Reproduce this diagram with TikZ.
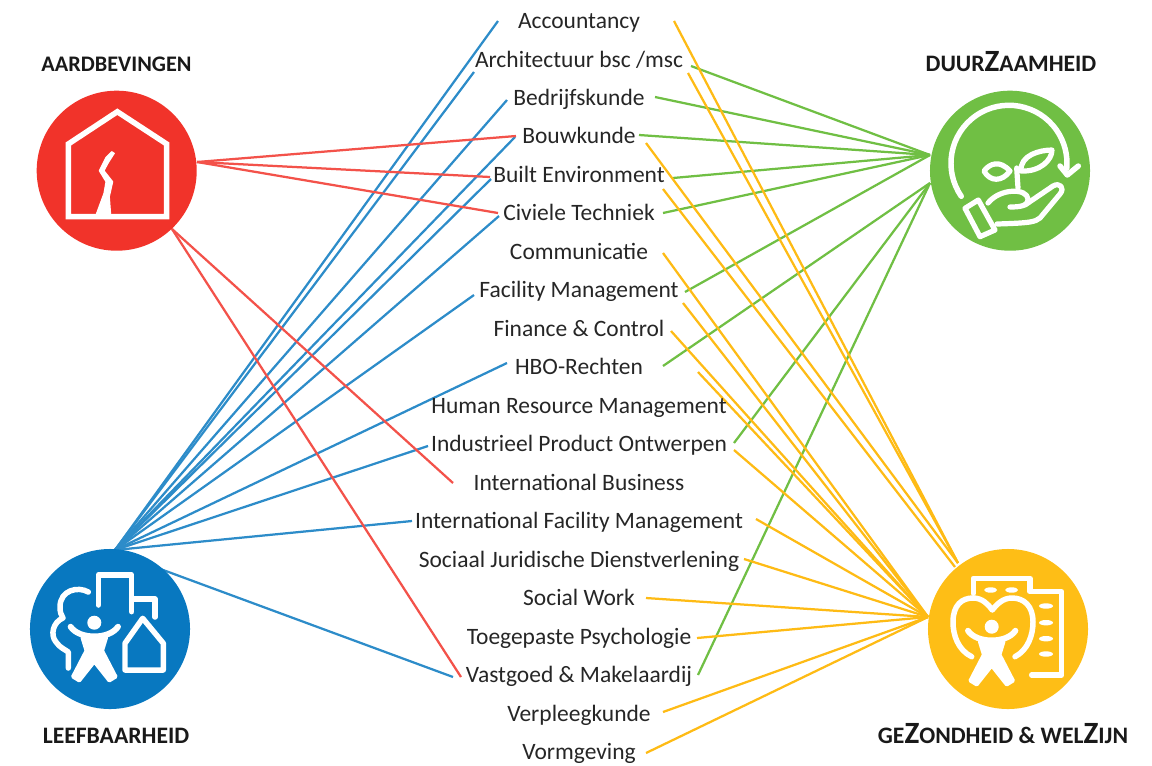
\documentclass[tikz,border=0pt]{standalone}
\usepackage{fontspec}
\setmainfont{Carlito}
\usepackage{xcolor}

\definecolor{rood}{HTML}{F1332A}
\definecolor{blauw}{HTML}{0878C0}
\definecolor{groen}{HTML}{70BF44}
\definecolor{geel}{HTML}{FEBE16}

\newcommand{\grootZ}{{\fontsize{22}{22}\selectfont Z}}

\tikzset{
	roodlijn/.style={draw=rood!85!white, line width=1.6pt},
	blauwlijn/.style={draw=blauw!85!white, line width=1.6pt},
	groenlijn/.style={draw=groen, line width=1.6pt},
	geellijn/.style={draw=geel!95!orange, line width=1.6pt},
	schijf/.style={circle, minimum size=4cm},
	vak/.style={font=\fontsize{16.7}{18}\selectfont, text=black!85, text height=11pt, text depth=0pt},
	kop/.style={font=\fontsize{16.8}{20}\selectfont\bfseries, text=black!90, text height=10.5pt, text depth=0pt},
	wit/.style={draw=white, line width=3.9pt, line cap=round, line join=round},
	dun/.style={wit, line width=3.7pt},
	persoon/.pic={
		\fill[white] (0,0) circle (7);
		\draw[wit, line width=4.2pt] (-23.7,-4) .. controls (-15,-17) and (15,-17) .. (23.7,-4);
		\fill[white, draw=white, line width=2.5pt, line join=round] (-12,-15) -- (12,-15) -- (8,-28) -- (21.5,-54) -- (15,-58) -- (0,-39) -- (-15,-58) -- (-21.5,-54) -- (-8,-28) -- cycle;
	}
}

\begin{document}
\begin{tikzpicture}[>=latex, thick, inner sep=0pt, x=0.025cm, y=0.025cm]

	\useasboundingbox (0,0) rectangle (1152,-765);

	% uiteinden links
	\coordinate (aard_a) at (197,-162);
	\coordinate (aard_b) at (172,-229);
	\coordinate (leef_a) at (115,-550);
	\coordinate (leef_b) at (155,-567);
	\coordinate (duur_a) at (930,-155);
	\coordinate (duur_b) at (930,-183);
	\coordinate (gez_a) at (928,-617);
	\coordinate (gez_b) at (955,-567);
	\coordinate (gez_c) at (958,-563);

	% uiteinden blauw
	\coordinate (acc_l) at (498,-21);
	\coordinate (arch_l) at (474,-72);
	\coordinate (bedr_l) at (507,-100);
	\coordinate (bouw_l) at (515,-137);
	\coordinate (built_l) at (491,-179);
	\coordinate (civ_l) at (499,-216);
	\coordinate (fac_l) at (474,-295);
	\coordinate (hbo_l) at (507,-363);
	\coordinate (ind_l) at (428,-446);
	\coordinate (ifm_l) at (412,-521);
	\coordinate (vast_l) at (453,-677);

	% uiteinden rood
	\coordinate (bouw_r) at (516,-136);
	\coordinate (built_r) at (490,-177);
	\coordinate (civ_r) at (498,-213);
	\coordinate (intb_r) at (453,-483);
	\coordinate (vast_r) at (461,-677);

	% uiteinden groen
	\coordinate (arch_g) at (691,-66);
	\coordinate (bedr_g) at (655,-97);
	\coordinate (bouw_g) at (639,-135);
	\coordinate (built_g) at (673,-178);
	\coordinate (civ_g) at (663,-213);
	\coordinate (fac_g) at (685,-292);
	\coordinate (hbo_g) at (663,-366);
	\coordinate (ind_g) at (734,-443);
	\coordinate (vast_g) at (698,-675);

	% uiteinden geel
	\coordinate (acc_o) at (674,-21);
	\coordinate (arch_o) at (688,-73);
	\coordinate (bouw_o) at (646,-143);
	\coordinate (built_o) at (663,-189);
	\coordinate (com_o) at (663,-253);
	\coordinate (fac_o) at (683,-303);
	\coordinate (fin_o) at (671,-331);
	\coordinate (hrm_o) at (698,-372);
	\coordinate (ind_o) at (734,-450);
	\coordinate (ifm_o) at (756,-519);
	\coordinate (sjd_o) at (744,-559);
	\coordinate (sw_o) at (646,-598);
	\coordinate (tp_o) at (697,-638);
	\coordinate (verp_o) at (663,-712);
	\coordinate (vorm_o) at (646,-753);

	% blauwe lijnen
	\draw[blauwlijn] (leef_a) -- (acc_l);
	\draw[blauwlijn] (leef_a) -- (arch_l);
	\draw[blauwlijn] (leef_a) -- (bedr_l);
	\draw[blauwlijn] (leef_a) -- (bouw_l);
	\draw[blauwlijn] (leef_a) -- (built_l);
	\draw[blauwlijn] (leef_a) -- (civ_l);
	\draw[blauwlijn] (leef_a) -- (fac_l);
	\draw[blauwlijn] (leef_a) -- (hbo_l);
	\draw[blauwlijn] (leef_a) -- (ind_l);
	\draw[blauwlijn] (leef_a) -- (ifm_l);
	\draw[blauwlijn] (leef_b) -- (vast_l);

	% rode lijnen
	\draw[roodlijn] (aard_a) -- (bouw_r);
	\draw[roodlijn] (aard_a) -- (built_r);
	\draw[roodlijn] (aard_a) -- (civ_r);
	\draw[roodlijn] (aard_b) -- (intb_r);
	\draw[roodlijn] (aard_b) -- (vast_r);

	% groene lijnen
	\draw[groenlijn] (duur_a) -- (arch_g);
	\draw[groenlijn] (duur_a) -- (bedr_g);
	\draw[groenlijn] (duur_a) -- (bouw_g);
	\draw[groenlijn] (duur_a) -- (built_g);
	\draw[groenlijn] (duur_a) -- (civ_g);
	\draw[groenlijn] (duur_a) -- (fac_g);
	\draw[groenlijn] (duur_b) -- (hbo_g);
	\draw[groenlijn] (duur_b) -- (ind_g);
	\draw[groenlijn] (duur_b) -- (vast_g);

	% gele lijnen
	\draw[geellijn] (gez_c) -- (acc_o);
	\draw[geellijn] (gez_c) -- (arch_o);
	\draw[geellijn] (gez_c) -- (bouw_o);
	\draw[geellijn] (gez_b) -- (built_o);
	\draw[geellijn] (gez_a) -- (com_o);
	\draw[geellijn] (gez_a) -- (fac_o);
	\draw[geellijn] (gez_a) -- (fin_o);
	\draw[geellijn] (gez_a) -- (hrm_o);
	\draw[geellijn] (gez_a) -- (ind_o);
	\draw[geellijn] (gez_a) -- (ifm_o);
	\draw[geellijn] (gez_a) -- (sjd_o);
	\draw[geellijn] (gez_a) -- (sw_o);
	\draw[geellijn] (gez_a) -- (tp_o);
	\draw[geellijn] (gez_a) -- (verp_o);
	\draw[geellijn] (gez_a) -- (vorm_o);

	% schijven
	\node[schijf, fill=rood](aard) at (116.7,-170.7) {};
	\node[schijf, fill=blauw](leef) at (110,-629) {};
	\node[schijf, fill=groen](duur) at (1010,-170.7) {};
	\node[schijf, fill=geel](gez) at (1008,-629) {};

	% koppen
	\node[kop, font=\fontsize{15.8}{20}\selectfont\bfseries](aard_k) at (116.5,-64) {AARDBEVINGEN};
	\node[kop](leef_k) at (116,-736) {LEEFBAARHEID};
	\node[kop](duur_k) at (1011,-64) {DUUR\grootZ AAMHEID};
	\node[kop](gez_k) at (1003,-736) {GE\grootZ ONDHEID \& WEL\grootZ IJN};

	% vakken
	\node[vak](acc) at (579,-21) {Accountancy};
	\node[vak](arch) at (579,-60) {Architectuur bsc /msc};
	\node[vak](bedr) at (579,-98) {Bedrijfskunde};
	\node[vak](bouw) at (579,-136) {Bouwkunde};
	\node[vak](built) at (579,-175) {Built Environment};
	\node[vak](civ) at (579,-213) {Civiele Techniek};
	\node[vak](com) at (579,-252) {Communicatie};
	\node[vak](fac) at (579,-290) {Facility Management};
	\node[vak](fin) at (579,-329) {Finance \& Control};
	\node[vak](hbo) at (579,-367) {HBO-Rechten};
	\node[vak](hrm) at (579,-406) {Human Resource Management};
	\node[vak](ind) at (579,-444) {Industrieel Product Ontwerpen};
	\node[vak](intb) at (579,-483) {International Business};
	\node[vak](ifm) at (579,-521) {International Facility Management};
	\node[vak](sjd) at (579,-560) {Sociaal Juridische Dienstverlening};
	\node[vak](sw) at (579,-598) {Social Work};
	\node[vak](tp) at (579,-637) {Toegepaste Psychologie};
	\node[vak](vast) at (579,-675) {Vastgoed \& Makelaardij};
	\node[vak](verp) at (579,-714) {Verpleegkunde};
	\node[vak](vorm) at (579,-752) {Vormgeving};

	% huis met scheur
	\draw[wit, line cap=butt, line join=miter] (68.3,-216.7) -- (68.3,-144) -- (117.3,-111.7) -- (166.7,-144) -- (166.7,-216.7) -- cycle;
	\fill[white, draw=white, line width=0.8pt, line join=round] (96,-215) -- (104,-193.3) -- (106,-181.7) -- (99.3,-170.7) -- (106,-157.3) -- (111.7,-151.7) -- (114.3,-153.3) -- (108.3,-162.7) -- (104,-170.7) -- (112.7,-181.7) -- (109.3,-196.7) -- (110.7,-215) -- cycle;

	% stad
	\draw[wit] (98.3,-605) -- (98.3,-575) -- (131.7,-575) -- (131.7,-611.7);
	\draw[wit] (131.7,-599) -- (155,-599) -- (155,-617);
	\draw[wit] (88.3,-592) .. controls (78,-586) and (60,-590) .. (60,-607) .. controls (60,-612) and (61,-615) .. (63,-618) .. controls (53,-622) and (50,-635) .. (56,-642) .. controls (60,-648) and (66,-650) .. (68.3,-652) -- (68.3,-668);
	\draw[wit] (125,-670) -- (125,-643.3) -- (142.7,-618.3) -- (163.3,-643.3) -- (163.3,-670) -- cycle;
	\pic at (94.3,-622.7) {persoon};

	% plant en hand
	\draw[wit] (961.3,-196.3) arc[start angle=214.7, end angle=-5, radius=58];
	\draw[wit] (1060,-166) -- (1067.3,-175) -- (1078.3,-166);
	\draw[dun] (1016.7,-168) -- (1018,-188);
	\draw[dun] (1021,-171) .. controls (1020,-155) and (1040,-150) .. (1052,-150) .. controls (1052,-160) and (1040,-172) .. cycle;
	\draw[dun] (1010,-171) .. controls (1000,-160) and (990,-163) .. (984,-171) .. controls (990,-182) and (1002,-182) .. cycle;
	\draw[dun] (965,-208.3) -- (978.3,-200) -- (995,-230) -- (980,-236.7) -- cycle;
	\draw[dun] (988,-203) .. controls (1000,-188) and (1027,-188) .. (1028,-199) .. controls (1028,-206) and (1020,-207) .. (1010,-207);
	\draw[dun] (1025,-205) -- (1053,-186) .. controls (1060,-182) and (1065,-188) .. (1060,-194) -- (1040,-218) .. controls (1035,-222) and (1030,-223) .. (997,-224);

	% hart en gebouw
	\draw[wit] (973.3,-593.3) -- (973.3,-578.3) -- (1030,-578.3) -- (1030,-591.7) -- (1061.7,-591.7) -- (1061.7,-675) -- (1031.7,-675);
	\fill[white] (990.7,-590) ellipse (6.5 and 2.7);
	\fill[white] (1011.7,-590) ellipse (6.5 and 2.7);
	\fill[white] (1046,-606) ellipse (7 and 2.7);
	\fill[white] (1046,-622.7) ellipse (7 and 2.7);
	\fill[white] (1046,-638.7) ellipse (7 and 2.7);
	\fill[white] (1046,-654) ellipse (7 and 2.7);
	\draw[wit] (971.7,-656.7) .. controls (958,-650) and (953,-635) .. (953,-622) .. controls (953,-605) and (962,-598) .. (973,-598) .. controls (982,-598) and (988,-604) .. (992.3,-610) .. controls (997,-604) and (1003,-598) .. (1012,-598) .. controls (1024,-598) and (1033,-606) .. (1033,-622) .. controls (1033,-635) and (1028,-650) .. (1015,-656.7);
	\pic at (991.7,-626.7) {persoon};

\end{tikzpicture}
\end{document}
